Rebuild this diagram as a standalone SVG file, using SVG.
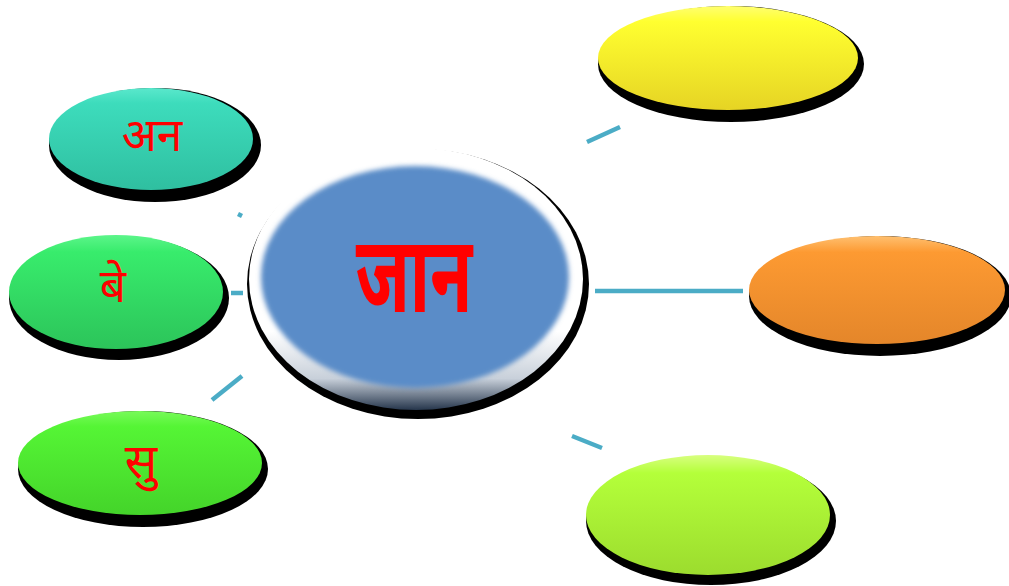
<svg xmlns="http://www.w3.org/2000/svg" width="1009" height="586" viewBox="0 0 1009 586">
  <style>
    .shadow { fill: #000; }
    .conn { stroke: #4bacc6; stroke-width: 4.5; fill: none; }
    .lbl { font-family: "Noto Sans", "Liberation Sans", sans-serif; fill: #ff0000; text-anchor: middle; }
  </style>
  <defs>
    <linearGradient id="gTeal" x1="0" y1="0" x2="0" y2="1">
      <stop offset="0" stop-color="#5ae8cc"/><stop offset="0.15" stop-color="#3ddcbc"/><stop offset="1" stop-color="#2fbfa0"/>
    </linearGradient>
    <linearGradient id="gGreen1" x1="0" y1="0" x2="0" y2="1">
      <stop offset="0" stop-color="#5cf58a"/><stop offset="0.15" stop-color="#38ec6c"/><stop offset="1" stop-color="#2cc45a"/>
    </linearGradient>
    <linearGradient id="gGreen2" x1="0" y1="0" x2="0" y2="1">
      <stop offset="0" stop-color="#78fa5a"/><stop offset="0.15" stop-color="#55f535"/><stop offset="1" stop-color="#44d42a"/>
    </linearGradient>
    <linearGradient id="gYellow" x1="0" y1="0" x2="0" y2="1">
      <stop offset="0" stop-color="#ffff70"/><stop offset="0.15" stop-color="#ffff30"/><stop offset="1" stop-color="#e6d424"/>
    </linearGradient>
    <linearGradient id="gOrange" x1="0" y1="0" x2="0" y2="1">
      <stop offset="0" stop-color="#ffc070"/><stop offset="0.15" stop-color="#fd9a32"/><stop offset="1" stop-color="#e4862a"/>
    </linearGradient>
    <linearGradient id="gLime" x1="0" y1="0" x2="0" y2="1">
      <stop offset="0" stop-color="#d8ff80"/><stop offset="0.15" stop-color="#b4ff3a"/><stop offset="1" stop-color="#9cdc2e"/>
    </linearGradient>
    <linearGradient id="gRim" x1="0" y1="0" x2="0" y2="1">
      <stop offset="0" stop-color="#ffffff"/><stop offset="0.7" stop-color="#ffffff"/><stop offset="0.88" stop-color="#c8d0da"/><stop offset="1" stop-color="#26364c"/>
    </linearGradient>
    <filter id="soft" x="-10%" y="-10%" width="120%" height="120%">
      <feGaussianBlur stdDeviation="2.5"/>
    </filter>
  </defs>

  <g id="connectors">
    <line class="conn" x1="587" y1="142" x2="620" y2="127"/>
    <line class="conn" x1="595" y1="291" x2="743" y2="291"/>
    <line class="conn" x1="572" y1="436" x2="602" y2="448"/>
    <line class="conn" x1="231" y1="293" x2="243" y2="293"/>
    <line class="conn" x1="238" y1="214" x2="242" y2="216" stroke-width="2"/>
    <line class="conn" x1="212" y1="400" x2="242" y2="376"/>
  </g>

  <g id="node-center">
    <ellipse class="shadow" cx="418" cy="284" rx="171" ry="135"/>
    <ellipse cx="416" cy="279" rx="167" ry="131" fill="url(#gRim)"/>
    <ellipse cx="415" cy="277" rx="154" ry="111" fill="#5a8cc8" filter="url(#soft)"/>
    <text class="lbl" transform="translate(414,312) scale(0.82,1.28)" x="0" y="0" font-size="84" font-weight="bold">जान</text>
  </g>

  <g id="node-an">
    <ellipse class="shadow" cx="155" cy="145" rx="106" ry="57"/>
    <ellipse cx="151" cy="139" rx="102" ry="51" fill="url(#gTeal)"/>
    <text class="lbl" x="152" y="151" font-size="46">अन</text>
  </g>

  <g id="node-be">
    <ellipse class="shadow" cx="119" cy="298" rx="110" ry="62"/>
    <ellipse cx="116" cy="292" rx="107" ry="57" fill="url(#gGreen1)"/>
    <text class="lbl" x="113" y="302" font-size="46">बे</text>
  </g>

  <g id="node-su">
    <ellipse class="shadow" cx="143" cy="469" rx="125" ry="58"/>
    <ellipse cx="140" cy="463" rx="122" ry="52" fill="url(#gGreen2)"/>
    <text class="lbl" x="141" y="478" font-size="48">सु</text>
  </g>

  <g id="node-yellow">
    <ellipse class="shadow" cx="731" cy="64" rx="133" ry="58"/>
    <ellipse cx="728" cy="58" rx="130" ry="52" fill="url(#gYellow)"/>
  </g>

  <g id="node-orange">
    <ellipse class="shadow" cx="880" cy="296" rx="131" ry="60"/>
    <ellipse cx="877" cy="290" rx="128" ry="54" fill="url(#gOrange)"/>
  </g>

  <g id="node-lime">
    <ellipse class="shadow" cx="711" cy="521" rx="125" ry="64"/>
    <ellipse cx="708" cy="515" rx="122" ry="60" fill="url(#gLime)"/>
  </g>
</svg>
